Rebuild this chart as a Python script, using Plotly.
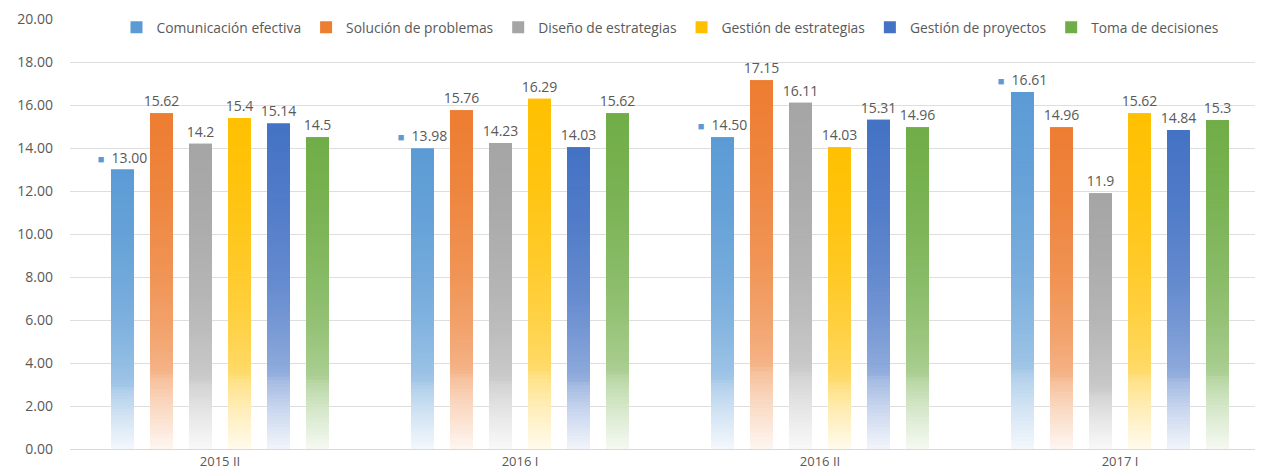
import numpy as np
import plotly.graph_objects as go

periods = ["2015 II", "2016 I", "2016 II", "2017 I"]

comunicacion = [13.00, 13.98, 14.50, 16.61]
solucion = [15.62, 15.76, 17.15, 14.96]
diseno = [14.2, 14.23, 16.11, 11.9]
gestion_estrategias = [15.4, 16.29, 14.03, 15.62]
gestion_proyectos = [15.14, 14.03, 15.31, 14.84]
toma_decisiones = [14.5, 15.62, 14.96, 15.3]

series_names = [
    "Comunicación efectiva",
    "Solución de problemas",
    "Diseño de estrategias",
    "Gestión de estrategias",
    "Gestión de proyectos",
    "Toma de decisiones",
]
series_values = [comunicacion, solucion, diseno, gestion_estrategias,
                 gestion_proyectos, toma_decisiones]
colors = ["#5B9BD5", "#ED7D31", "#A5A5A5", "#FFC000", "#4472C4", "#70AD47"]

text_color = "#595959"
font_family = "Open Sans, Arial, sans-serif"

# fake the excel gradient fill: opaque, nested steps (all from 0) that get
# whiter towards the bottom of the bar
fade_h = [0.0, 0.13, 0.21, 0.23, 0.26, 0.38, 0.51, 0.75, 1.0]
fade_w = [0.93, 0.70, 0.52, 0.42, 0.38, 0.27, 0.18, 0.07, 0.0]
n_steps = 90
edges = np.linspace(0, 1.0, n_steps + 1)
mids = (edges[:-1] + edges[1:]) / 2
wash = np.interp(mids, fade_h, fade_w)


def blend(hex_col, w):
    r, g, b = (int(hex_col[j:j + 2], 16) for j in (1, 3, 5))
    r, g, b = (round(c + (255 - c) * w) for c in (r, g, b))
    return "rgb(%d,%d,%d)" % (r, g, b)


fig = go.Figure()

for i, (name, vals, col) in enumerate(zip(series_names, series_values, colors)):
    if i == 0:
        # first series labels carry a small legend key, like in excel
        labels = ["<span style='font-size:11px;color:%s'>■</span>  %.2f" % (col, v)
                  for v in vals]
    else:
        labels = [str(v) for v in vals]
    fig.add_trace(go.Bar(
        name=name,
        x=periods,
        y=vals,
        offsetgroup=str(i),
        marker=dict(color=col, line=dict(width=0)),
        text=labels,
        texttemplate="%{text}",
        textposition="outside",
        constraintext="none",
        cliponaxis=False,
        textfont=dict(size=14, color=text_color, family=font_family),
    ))

for i, (vals, col) in enumerate(zip(series_values, colors)):
    v = np.array(vals)
    for k in range(n_steps - 1, -1, -1):
        fig.add_trace(go.Bar(
            x=periods,
            y=v * edges[k + 1],
            offsetgroup=str(i),
            marker=dict(color=blend(col, wash[k]), line=dict(width=0)),
            showlegend=False,
            hoverinfo="skip",
        ))

# 300 px per category, 39 px slots, 23 px bars -> bar edges on whole pixels
fig.update_layout(
    width=1263,
    height=468,
    barmode="group",
    bargap=0.22,
    bargroupgap=16 / 39,
    plot_bgcolor="white",
    paper_bgcolor="white",
    margin=dict(l=62, r=1, t=11, b=27, autoexpand=False),
    font=dict(family=font_family, size=14, color=text_color),
    legend=dict(
        orientation="h",
        x=0.5, xanchor="center",
        y=0.981, yanchor="middle",
        font=dict(size=13.8, color=text_color),
        bgcolor="rgba(0,0,0,0)",
        traceorder="normal",
    ),
    showlegend=True,
)

fig.update_yaxes(
    range=[0, 20],
    dtick=2,
    tickformat=".2f",
    gridcolor="#dedede",
    gridwidth=1,
    zeroline=False,
    showline=False,
    automargin=False,
    ticklabelstandoff=16,
    tickfont=dict(size=14, color=text_color),
)
fig.update_xaxes(
    showline=True,
    linecolor="#d9d9d9",
    linewidth=1,
    ticks="",
    automargin=False,
    tickfont=dict(size=13, color=text_color),
)

fig.write_html("out.html")
